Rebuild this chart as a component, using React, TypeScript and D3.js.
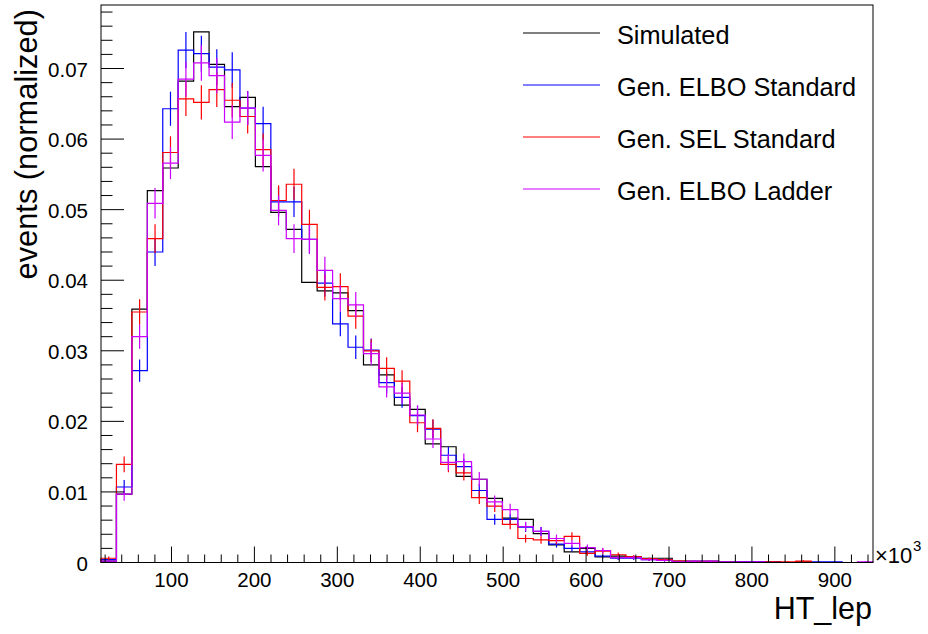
import React from "react";
import * as d3 from "d3";

// Histogram range (HT_lep in units of 10^3) and binning
const X_MIN = 15;
const X_MAX = 946;
const N_BINS = 50;
const Y_MAX = 0.079;
// approximate sample size of generated histograms (sets statistical error bars)
const N_GEN_EVENTS = 11000;

const simulated = [
  0.0002, 0.0097, 0.0359, 0.0527, 0.0559, 0.0682, 0.0752, 0.0706, 0.0646, 0.0659,
  0.0561, 0.0496, 0.0472, 0.0397, 0.0385, 0.0382, 0.0357, 0.0280, 0.0266, 0.0223,
  0.0217, 0.0168, 0.0164, 0.0122, 0.0118, 0.0091, 0.0063, 0.0061, 0.0041, 0.0025,
  0.0015, 0.0020, 0.0008, 0.0009, 0.0008, 0.0006, 0.0006, 0.0002, 0.0002, 0.0002,
  0.0001, 0.0001, 0.0001, 0.0001, 0.0000, 0.0001, 0.0000, 0.0000, 0.0000, 0.0000,
];

const elboStandard = [
  0.0004, 0.0107, 0.0272, 0.0440, 0.0643, 0.0726, 0.0721, 0.0702, 0.0698, 0.0644,
  0.0622, 0.0511, 0.0511, 0.0458, 0.0396, 0.0338, 0.0305, 0.0301, 0.0255, 0.0234,
  0.0208, 0.0189, 0.0152, 0.0136, 0.0102, 0.0061, 0.0061, 0.0050, 0.0044, 0.0026,
  0.0020, 0.0015, 0.0009, 0.0006, 0.0006, 0.0004, 0.0003, 0.0001, 0.0001, 0.0001,
  0.0000, 0.0001, 0.0001, 0.0001, 0.0000, 0.0000, 0.0001, 0.0001, 0.0000, 0.0000,
];

const selStandard = [
  0.0006, 0.0139, 0.0355, 0.0459, 0.0581, 0.0657, 0.0652, 0.0670, 0.0655, 0.0632,
  0.0585, 0.0513, 0.0536, 0.0479, 0.0390, 0.0391, 0.0349, 0.0300, 0.0275, 0.0257,
  0.0198, 0.0190, 0.0139, 0.0127, 0.0092, 0.0080, 0.0054, 0.0034, 0.0032, 0.0031,
  0.0037, 0.0013, 0.0016, 0.0011, 0.0008, 0.0005, 0.0004, 0.0002, 0.0001, 0.0001,
  0.0000, 0.0000, 0.0000, 0.0001, 0.0001, 0.0002, 0.0000, 0.0000, 0.0000, 0.0000,
];

const elboLadder = [
  0.0002, 0.0097, 0.0320, 0.0509, 0.0566, 0.0685, 0.0708, 0.0690, 0.0624, 0.0644,
  0.0577, 0.0499, 0.0459, 0.0458, 0.0414, 0.0374, 0.0365, 0.0296, 0.0249, 0.0240,
  0.0209, 0.0175, 0.0142, 0.0143, 0.0118, 0.0086, 0.0075, 0.0051, 0.0044, 0.0034,
  0.0027, 0.0021, 0.0017, 0.0007, 0.0007, 0.0004, 0.0003, 0.0001, 0.0002, 0.0002,
  0.0001, 0.0001, 0.0001, 0.0000, 0.0000, 0.0000, 0.0000, 0.0000, 0.0000, 0.0001,
];

const seriesNames = ["Simulated", "Gen. ELBO Standard", "Gen. SEL Standard", "Gen. ELBO Ladder"];
const seriesColors = ["#000000", "#0000ff", "#ff0000", "#cc00ff"];
const seriesErrors = [false, true, true, true];
const seriesValues = [simulated, elboStandard, selStandard, elboLadder];

const xTickLabels = [100, 200, 300, 400, 500, 600, 700, 800, 900];
const yTickLabels = [0, 0.01, 0.02, 0.03, 0.04, 0.05, 0.06, 0.07];

const W = 928;
const H = 634;
const L = 101;
const R = 873;
const T = 5;
const B = 562.5;
const FONT = "'Liberation Sans', Arial, Helvetica, sans-serif";

export default function App() {
  const x = d3.scaleLinear().domain([X_MIN, X_MAX]).range([L, R]);
  const y = d3.scaleLinear().domain([0, Y_MAX]).range([B, T]);
  const bw = (X_MAX - X_MIN) / N_BINS;
  const edge = (i: number) => X_MIN + i * bw;

  const histPath = (vals: number[]) => {
    const p = d3.path();
    p.moveTo(x(edge(0)), y(0));
    vals.forEach((v, i) => {
      p.lineTo(x(edge(i)), y(v));
      p.lineTo(x(edge(i + 1)), y(v));
    });
    p.lineTo(x(edge(vals.length)), y(0));
    return p.toString();
  };

  const xMinor = d3.range(20, X_MAX, 20).filter((t) => t >= X_MIN && t % 100 !== 0);
  const xMajor = d3.range(100, X_MAX, 100);
  const yMinor = d3.range(0, Y_MAX + 1e-9, 0.002).filter((t) => Math.round(t * 1000) % 10 !== 0);
  const yMajor = yTickLabels;

  const legendY = [33, 85, 137, 189];

  return (
    <svg
      width={W}
      height={H}
      style={{ position: "absolute", left: 0, top: 0, background: "#fff" }}
      fontFamily={FONT}
    >
      <rect x={0} y={0} width={W} height={H} fill="#fff" />
      {/* histograms */}
      {seriesValues.map((vals, si) => (
        <g key={si}>
          <path d={histPath(vals)} fill="none" stroke={seriesColors[si]} strokeWidth={1.2} />
          {seriesErrors[si] &&
            vals.map((v, i) => {
              if (v <= 0) return null;
              const e = Math.sqrt(v / N_GEN_EVENTS);
              const cx = x(edge(i) + bw / 2);
              return (
                <line
                  key={i}
                  x1={cx}
                  x2={cx}
                  y1={y(Math.max(0, v - e))}
                  y2={y(Math.min(Y_MAX, v + e))}
                  stroke={seriesColors[si]}
                  strokeWidth={1.2}
                />
              );
            })}
        </g>
      ))}
      {/* frame */}
      <rect x={L} y={T} width={R - L} height={B - T} fill="none" stroke="#000" strokeWidth={1} />
      {/* x ticks */}
      {xMinor.map((t) => (
        <line key={"xm" + t} x1={x(t)} x2={x(t)} y1={B} y2={B - 8} stroke="#000" strokeWidth={1} />
      ))}
      {xMajor.map((t) => (
        <line key={"xM" + t} x1={x(t)} x2={x(t)} y1={B} y2={B - 16} stroke="#000" strokeWidth={1} />
      ))}
      {xTickLabels.map((t) => (
        <text key={"xl" + t} x={x(t)} y={587} fontSize={20.5} textAnchor="middle" fill="#000">
          {t}
        </text>
      ))}
      {/* y ticks */}
      {yMinor.map((t, i) => (
        <line key={"ym" + i} x1={L} x2={L + 11.5} y1={y(t)} y2={y(t)} stroke="#000" strokeWidth={1} />
      ))}
      {yMajor.map((t) => (
        <line key={"yM" + t} x1={L} x2={L + 23} y1={y(t)} y2={y(t)} stroke="#000" strokeWidth={1} />
      ))}
      {yTickLabels.map((t) => (
        <text key={"yl" + t} x={88} y={y(t) + 8} fontSize={20.5} textAnchor="end" fill="#000">
          {t === 0 ? "0" : d3.format(".2f")(t)}
        </text>
      ))}
      {/* exponent */}
      <text x={875} y={563} fontSize={22} fill="#000">
        ×10
      </text>
      <text x={913} y={551} fontSize={15} fill="#000">
        3
      </text>
      {/* axis titles */}
      <text x={872} y={619} fontSize={30.5} textAnchor="end" fill="#000">
        HT_lep
      </text>
      <text
        transform={`translate(37, 9) rotate(-90)`}
        fontSize={30.8}
        textAnchor="end"
        fill="#000"
      >
        events (normalized)
      </text>
      {/* legend */}
      {seriesNames.map((name, i) => (
        <g key={name}>
          <line x1={523} x2={600} y1={legendY[i]} y2={legendY[i]} stroke={seriesColors[i]} strokeWidth={1.2} />
          <text x={617} y={legendY[i] + 10.5} fontSize={25.3} fill="#000">
            {name}
          </text>
        </g>
      ))}
    </svg>
  );
}
